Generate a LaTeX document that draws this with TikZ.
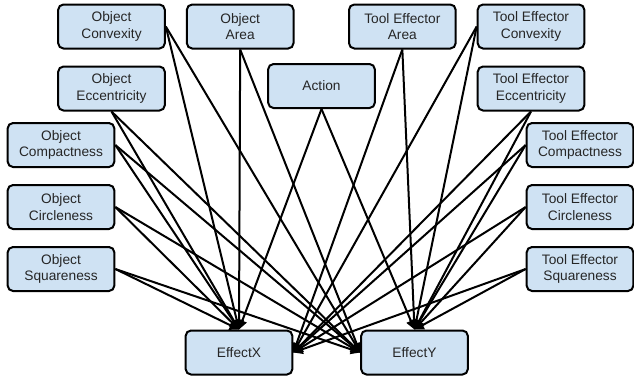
\documentclass[tikz,border=0pt]{standalone}
\usepackage{fontspec}
\setmainfont{Liberation Sans}
\usetikzlibrary{positioning,arrows.meta}
\definecolor{boxblue}{HTML}{CFE2F3}
\begin{document}
\begin{tikzpicture}[x=0.75pt,y=-0.75pt,
   box/.style={draw=black,fill=boxblue,line width=1.5pt,rounded corners=4pt,
     minimum width=80pt,minimum height=33pt,inner sep=2pt,align=center,
     text=black!85,font=\fontsize{10.3}{12.3}\selectfont},
   arr/.style={-{Triangle[length=7pt,width=7pt]},line width=1.5pt},
   node distance=12pt and 15pt]
 \useasboundingbox (0,0) rectangle (634,379);
 \node[box] (conv) at (111.5,26.5) {Object\\Convexity};
 \node[box,right=of conv] (area) {Object\\Area};
 \node[box,below=of conv] (ecc) {Object\\Eccentricity};
 \node[box] (comp) at (61,145) {Object\\Compactness};
 \node[box,below=of comp] (circ) {Object\\Circleness};
 \node[box,below=of circ] (squ) {Object\\Squareness};
 \node[box] (teconv) at (531,26.5) {Tool Effector\\Convexity};
 \node[box,left=of teconv] (tearea) {Tool Effector\\Area};
 \node[box,below=of teconv] (teecc) {Tool Effector\\Eccentricity};
 \node[box] (tecomp) at (580,145) {Tool Effector\\Compactness};
 \node[box,below=of tecomp] (tecirc) {Tool Effector\\Circleness};
 \node[box,below=of tecirc] (tesqu) {Tool Effector\\Squareness};
 \node[box] (act) at (321.5,86) {Action};
 \node[box] (ex) at (239,352.5) {EffectX};
 \node[box] (ey) at (414.5,352.5) {EffectY};
 \foreach \src/\anc in {conv/east,area/south,ecc/south,comp/east,circ/east,squ/east}
 {\draw[arr] (\src.\anc) -- (ex.north);
  \draw[arr] (\src.\anc) -- (ey.west);}
 \foreach \src/\anc in {tearea/south,teconv/west,teecc/south,tecomp/west,tecirc/west,tesqu/west}
 {\draw[arr] (\src.\anc) -- (ex.east);
  \draw[arr] (\src.\anc) -- (ey.north);}
 \draw[arr] (act.south) -- (ex.north);
 \draw[arr] (act.south) -- (ey.north);
\end{tikzpicture}
\end{document}
